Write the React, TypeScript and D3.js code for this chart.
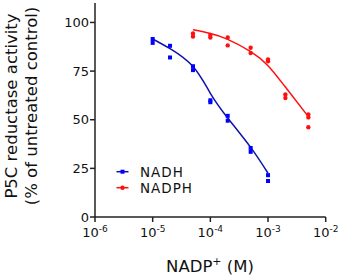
import React from "react";
import * as d3 from "d3";

const W = 340;
const H = 278;

// NADH replicate measurements
const nadhConc = [1e-5, 1e-5, 2e-5, 2e-5, 5e-5, 5e-5, 1e-4, 1e-4, 2e-4, 2e-4, 5e-4, 5e-4, 1e-3, 1e-3];
const nadhValues = [91.5, 89.5, 88, 82, 77.5, 75.5, 60, 59, 52, 49.5, 35.5, 33.5, 21.5, 18.5];
// NADH fitted curve
const nadhFitConc = [1e-5, 2e-5, 5e-5, 1e-4, 2e-4, 5e-4, 1e-3];
const nadhFitValues = [91.5, 86.5, 77.3, 63.6, 50.9, 35.8, 22.5];

// NADPH replicate measurements
const nadphConc = [5e-5, 5e-5, 1e-4, 1e-4, 2e-4, 2e-4, 5e-4, 5e-4, 1e-3, 1e-3, 2e-3, 2e-3, 5e-3, 5e-3, 5e-3];
const nadphValues = [94.3, 92.8, 93.6, 92.3, 92.3, 88.2, 87, 84.3, 81, 80, 63, 61.2, 52.7, 51.2, 46.1];
// NADPH fitted curve
const nadphFitConc = [5e-5, 1e-4, 2e-4, 5e-4, 1e-3, 2e-3, 5e-3];
const nadphFitValues = [96.2, 94.3, 91.3, 85, 77.8, 66.8, 51.6];

const xTickExps = [-6, -5, -4, -3, -2];
const yTicks = [0, 25, 50, 75, 100];
const legendLabels = ["NADH", "NADPH"];

const BLUE_PT = "#0000ff";
const BLUE_LINE = "#1010b0";
const RED = "#ff1010";
const AXIS = "#222";
const FONT = "'DejaVu Sans', sans-serif";

export default function App() {
  const x = d3.scaleLog().domain([1e-6, 1e-2]).range([95, 325.7]);
  const y = d3.scaleLinear().domain([0, 110]).range([217, 3]);

  const line = d3
    .line<[number, number]>()
    .x((d) => x(d[0]))
    .y((d) => y(d[1]))
    .curve(d3.curveNatural);

  const nadhFit = nadhFitConc.map((c, i) => [c, nadhFitValues[i]] as [number, number]);
  const nadphFit = nadphFitConc.map((c, i) => [c, nadphFitValues[i]] as [number, number]);

  const legendY = [171.7, 187.7];

  return (
    <svg width={W} height={H} style={{ position: "absolute", left: 0, top: 0, background: "#fff" }}>
      {/* Y axis title */}
      <g fontFamily={FONT} fontSize={16.5} fill="#111" textAnchor="middle">
        <text transform={`translate(17,106) rotate(-90)`}>P5C reductase activity</text>
        <text transform={`translate(37,106) rotate(-90)`}>(% of untreated control)</text>
      </g>

      {/* Axes */}
      <line x1={x(1e-6)} x2={x(1e-6)} y1={y(0)} y2={y(110)} stroke={AXIS} strokeWidth={1.5} />
      <line x1={x(1e-6) - 0.75} x2={x(1e-2)} y1={y(0)} y2={y(0)} stroke={AXIS} strokeWidth={1.5} />
      {yTicks.map((t) => (
        <g key={t}>
          <line x1={x(1e-6) - 5} x2={x(1e-6)} y1={y(t)} y2={y(t)} stroke={AXIS} strokeWidth={1.5} />
          <text
            x={x(1e-6) - 6}
            y={y(t)}
            dy="0.36em"
            textAnchor="end"
            fontFamily={FONT}
            fontSize={13}
            fill="#111"
          >
            {t}
          </text>
        </g>
      ))}
      {xTickExps.map((e) => (
        <g key={e}>
          <line x1={x(Math.pow(10, e))} x2={x(Math.pow(10, e))} y1={y(0)} y2={y(0) + 5} stroke={AXIS} strokeWidth={1.5} />
          <text x={x(Math.pow(10, e))} y={236.5} textAnchor="middle" fontFamily={FONT} fontSize={13} fill="#111">
            10
            <tspan fontSize={9} dy={-5}>
              {String(e)}
            </tspan>
          </text>
        </g>
      ))}

      {/* X axis title */}
      <text x={210} y={271.5} textAnchor="middle" fontFamily={FONT} fontSize={16.5} fill="#111">
        NADP
        <tspan fontSize={11} dy={-7}>
          +
        </tspan>
        <tspan dy={7}> (M)</tspan>
      </text>

      {/* Fit curves */}
      <path d={line(nadhFit) || ""} fill="none" stroke={BLUE_LINE} strokeWidth={1.5} />
      <path d={line(nadphFit) || ""} fill="none" stroke={RED} strokeWidth={1.5} />

      {/* Points */}
      {nadhConc.map((c, i) => (
        <rect key={"b" + i} x={x(c) - 2} y={y(nadhValues[i]) - 2} width={4} height={4} fill={BLUE_PT} />
      ))}
      {nadphConc.map((c, i) => (
        <circle key={"r" + i} cx={x(c)} cy={y(nadphValues[i])} r={2.2} fill={RED} />
      ))}

      {/* Legend */}
      {legendLabels.map((lab, i) => (
        <g key={lab}>
          <line x1={116.5} x2={128.5} y1={legendY[i]} y2={legendY[i]} stroke={i === 0 ? BLUE_LINE : RED} strokeWidth={1.5} />
          {i === 0 ? (
            <rect x={120.5} y={legendY[i] - 2} width={4} height={4} fill={BLUE_PT} />
          ) : (
            <circle cx={122.5} cy={legendY[i]} r={2.2} fill={RED} />
          )}
          <text
            x={140}
            y={legendY[i]}
            dy="0.36em"
            fontFamily={FONT}
            fontSize={13.5}
            letterSpacing={1}
            fill="#111"
          >
            {lab}
          </text>
        </g>
      ))}
    </svg>
  );
}
